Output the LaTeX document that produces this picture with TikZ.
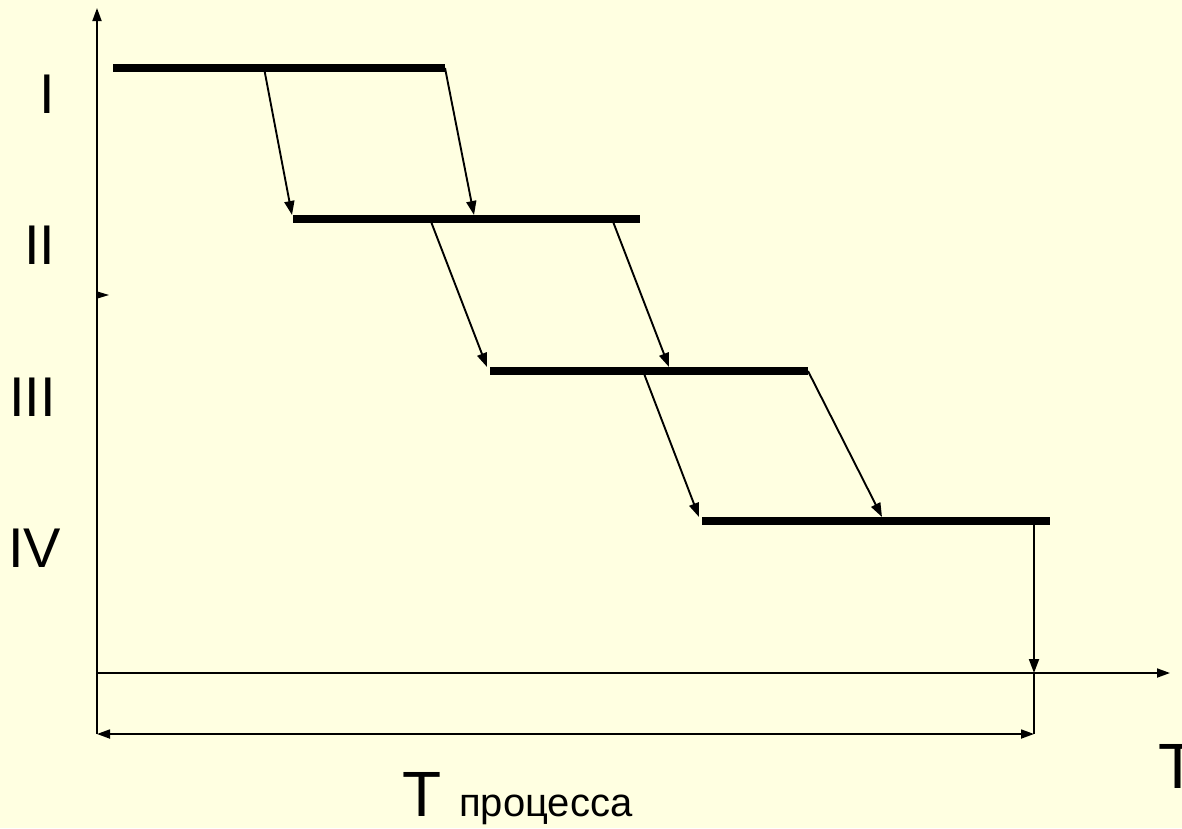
\documentclass[tikz,border=0pt]{standalone}
\usepackage{fontspec}
\setmainfont{Liberation Sans}
\usetikzlibrary{arrows.meta}
\definecolor{bgyellow}{RGB}{255,255,225}

\begin{document}
\begin{tikzpicture}[x=1pt,y=-1pt,
  axis/.style={line width=1.8pt,-{Triangle[length=13pt,width=9pt]}},
  stage/.style={line width=7.5pt},
  link/.style={line width=1.9pt,-{Triangle[length=14pt,width=10pt]}},
  lbl/.style={inner sep=0,anchor=base west,font=\fontsize{56}{60}\selectfont}]
\path[fill=bgyellow,use as bounding box] (0,0) rectangle (1182,828);
\clip (0,0) rectangle (1182,828);
% axes
\coordinate (ybot) at (97,734);
\coordinate (ytop) at (97,8);
\coordinate (o) at (97,673);
\coordinate (xend) at (1170,673);
\draw[axis] (ybot) -- (ytop);
\draw[axis] (o) -- (xend);
\draw[line width=1pt,-{Triangle[length=12pt,width=7pt]}] (97,295) coordinate (mk) -- (109,295);
% stages
\draw[stage] (113,68) coordinate (s1) -- (445,68) coordinate (e1);
\draw[stage] (293,219) coordinate (s2) -- (640,219) coordinate (e2);
\draw[stage] (490,371) coordinate (s3) -- (808,371) coordinate (e3);
\draw[stage] (702,521) coordinate (s4) -- (1050,521) coordinate (e4);
% transfers between stages
\coordinate (a1) at (264,68);  \coordinate (b1) at (292,215);
\coordinate (b2) at (474,215);
\coordinate (a3) at (430,219); \coordinate (b3) at (487,367);
\coordinate (a4) at (612,219); \coordinate (b4) at (669,367);
\coordinate (a5) at (643,371); \coordinate (b5) at (699,517);
\coordinate (b6) at (882,517);
\draw[link] (a1) -- (b1);
\draw[link] (e1) -- (b2);
\draw[link] (a3) -- (b3);
\draw[link] (a4) -- (b4);
\draw[link] (a5) -- (b5);
\draw[link] (e3) -- (b6);
% end of process
\coordinate (f) at (1034,521);
\coordinate (fx) at (1034,673);
\coordinate (fd) at (1034,734);
\draw[link] (f) -- (fx);
\draw[line width=1.8pt] (fx) -- (fd);
\draw[line width=1.8pt,{Triangle[length=13pt,width=9pt]}-{Triangle[length=13pt,width=9pt]}] (ybot) -- (fd);
% labels
\node[lbl] (lI) at (39,113) {I};
\node[lbl] (lII) at (24,264) {II};
\node[lbl] (lIII) at (9,416) {III};
\node[lbl] (lIV) at (8,567) {IV};
\node[inner sep=0,anchor=base west] (tp) at (402,816)
  {\fontsize{64}{70}\selectfont T\hspace{18pt}\fontsize{40}{48}\selectfont процесса};
\node[inner sep=0,anchor=base west,font=\fontsize{64}{70}\selectfont] (tx) at (1158,788) {T};
\end{tikzpicture}
\end{document}
